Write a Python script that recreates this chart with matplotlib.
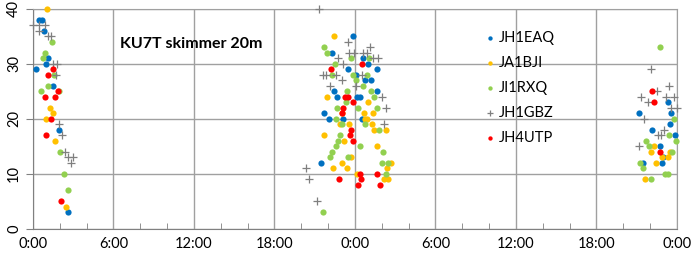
import numpy as np
import matplotlib.pyplot as plt
from matplotlib.ticker import MultipleLocator, FuncFormatter

# hours since first 0:00, and reported values (per station)
eaq_h = [0.47, 0.65, 0.82, 1.14, 0.95, 0.22, 1.52, 1.96, 2.63,
         23.84, 22.27, 24.63, 25.0, 23.52, 25.68, 24.09, 24.76, 25.18, 22.47,
         25.63, 22.65, 24.19, 24.39, 21.7, 22.1, 23.14, 24.51, 21.45,
         47.3, 45.21, 47.55, 47.45, 46.13, 47.87, 46.76, 47.0, 45.46, 46.88]
eaq_v = [38, 38, 36, 31, 30, 29, 26, 18, 3,
         35, 32, 31, 30, 29, 29, 28, 27, 27, 25,
         25, 24, 24, 24, 21, 20, 20, 20, 12,
         23, 21, 21, 19, 18, 17, 15, 13, 12, 12]

bji_h = [1.07, 1.27, 1.47, 0.95, 1.64, 2.46,
         22.47, 21.9, 25.01, 23.02, 24.68, 25.33, 24.76, 24.93, 22.9, 23.57,
         25.26, 25.43, 26.32, 21.7, 23.19, 25.68, 23.69, 23.02, 26.7, 22.35,
         23.39, 26.37, 24.19, 26.17, 26.5,
         46.31, 46.06, 47.45, 46.88, 47.33, 46.46, 45.59]
bji_v = [40, 22, 21, 20, 16, 4,
         35, 24, 23, 21, 21, 21, 20, 20, 19, 19,
         19, 18, 18, 17, 16, 15, 13, 12, 12, 11,
         11, 11, 10, 9, 9,
         15, 14, 14, 13, 13, 12, 9]

rxq_h = [1.44, 0.87, 0.72, 1.6, 1.14, 0.57, 1.95, 2.01, 2.31, 2.63,
         21.7, 21.9, 23.71, 25.08, 22.52, 22.32, 23.84, 24.93, 24.09, 24.58,
         23.39, 25.21, 25.43, 23.34, 22.7, 24.26, 25.63, 22.6, 23.02, 24.76,
         25.8, 22.9, 22.77, 22.6, 24.39, 22.27, 26.13, 22.15, 23.52, 26.0,
         26.5, 26.32, 21.65,
         46.71, 47.82, 47.43, 45.69, 47.95, 45.89, 47.63, 45.26, 45.46, 47.13,
         47.3, 46.08]
rxq_v = [34, 32, 31, 28, 26, 25, 25, 14, 10, 7,
         33, 32, 31, 31, 30, 28, 28, 28, 27, 26,
         25, 25, 24, 23, 22, 22, 22, 20, 19, 19,
         18, 17, 16, 15, 15, 14, 14, 13, 13, 12,
         12, 10, 3,
         33, 20, 17, 16, 16, 15, 14, 12, 11, 10,
         10, 9]

gbz_h = [0.02, 0.47, 0.9, 0.47, 1.14, 1.32, 1.52, 1.77, 1.75, 1.96, 2.19,
         2.39, 2.58, 2.96, 2.81,
         21.35, 23.47, 25.13, 23.59, 23.94, 24.58, 24.93, 22.77, 25.38, 25.7,
         23.14, 21.6, 21.83, 22.6, 24.51, 23.02, 22.15, 24.09, 26.0, 26.32,
         26.2, 20.36, 20.61, 21.2,
         46.06, 47.43, 46.5, 45.34, 47.2, 47.8, 45.84, 47.55, 48.0, 45.56,
         47.05, 46.58, 46.83, 45.14]
gbz_v = [37, 37, 37, 36, 35, 35, 30, 30, 28, 19, 17,
         14, 13, 13, 12,
         40, 34, 33, 32, 32, 32, 32, 31, 31, 31,
         30, 28, 28, 28, 28, 27, 26, 26, 24, 22,
         19, 11, 9, 5,
         29, 26, 25, 24, 24, 24, 23, 22, 22, 20,
         18, 17, 17, 15]

utp_h = [1.47, 1.14, 1.89, 0.9, 1.64, 1.34, 0.95, 2.09,
         24.56, 22.22, 23.27, 23.47, 23.84, 23.14, 23.02, 23.71, 23.64, 23.84,
         24.39, 25.68, 22.84, 24.46, 24.21, 25.88,
         46.18, 46.31, 46.71]
utp_v = [29, 28, 25, 24, 24, 20, 17, 5,
         30, 29, 24, 24, 23, 22, 21, 18, 17, 16,
         10, 10, 9, 9, 8, 8,
         25, 23, 14]

plt.rcParams['font.family'] = ['Lato', 'DejaVu Sans']

fig = plt.figure(figsize=(7, 2.62), dpi=100)
ax = fig.add_axes([0.047, 0.126, 0.92, 0.84])

kw = dict(zorder=3, clip_on=False)
ax.scatter(eaq_h, eaq_v, s=20, color='#0070C0', label='JH1EAQ', linewidths=0, **kw)
ax.scatter(bji_h, bji_v, s=20, color='#FFC000', label='JA1BJI', linewidths=0, **kw)
ax.scatter(rxq_h, rxq_v, s=20, color='#92D050', label='JI1RXQ', linewidths=0, **kw)
ax.scatter(gbz_h, gbz_v, s=30, color='#7F7F7F', marker='+', label='JH1GBZ', linewidths=0.9, **kw)
ax.scatter(utp_h, utp_v, s=20, color='#FF0000', label='JH4UTP', linewidths=0, **kw)

ax.set_xlim(0, 48)
ax.set_ylim(0, 40)
ax.xaxis.set_major_locator(MultipleLocator(6))
ax.xaxis.set_minor_locator(MultipleLocator(2))
ax.xaxis.set_major_formatter(FuncFormatter(lambda x, p: '%d:00' % (int(x) % 24)))
ax.yaxis.set_major_locator(MultipleLocator(10))

ax.grid(True, which='major', color='#a0a0a0', lw=1)
ax.set_axisbelow(True)
for sp in ax.spines.values():
    sp.set_color('#a0a0a0')
ax.spines['left'].set_color('#808080')
ax.spines['bottom'].set_color('#808080')

ax.tick_params(axis='x', which='major', length=0, labelsize=10.5, pad=6)
ax.tick_params(axis='x', which='minor', direction='in', length=4, color='#808080')
ax.tick_params(axis='y', which='major', direction='out', length=5, color='#808080',
               labelsize=10.5, labelrotation=90)
for lb in ax.get_yticklabels():
    lb.set_va('center')

ax.text(6.5, 33.6, 'KU7T skimmer 20m', fontsize=11.5, fontweight='bold', va='center')

leg = ax.legend(loc='upper left', bbox_to_anchor=(0.69, 0.925), frameon=False,
                fontsize=10.5, handletextpad=0.1, labelspacing=0.75, markerscale=0.7,
                handlelength=1.0, borderaxespad=0)

fig.savefig('out.png', dpi=100)
